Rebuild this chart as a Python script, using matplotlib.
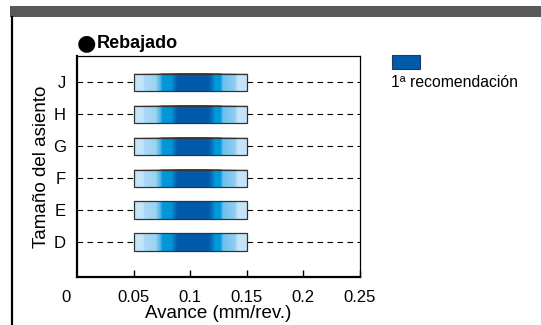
import numpy as np
import matplotlib
matplotlib.use("Agg")
import matplotlib.pyplot as plt
from matplotlib.colors import LinearSegmentedColormap
from matplotlib.patches import Rectangle
from matplotlib.lines import Line2D

plt.rcParams['font.family'] = ['Liberation Sans', 'DejaVu Sans']

# Recommended feed range per seat size
seat_sizes = ['D', 'E', 'F', 'G', 'H', 'J']
feed_low = [0.05, 0.05, 0.05, 0.05, 0.05, 0.05]
feed_high = [0.15, 0.15, 0.15, 0.15, 0.15, 0.15]
x_ticks = [0.05, 0.1, 0.15, 0.2, 0.25]
x_tick_labels = ['0.05', '0.1', '0.15', '0.2', '0.25']

W, H = 541, 325
fig = plt.figure(figsize=(W / 100, H / 100), dpi=100)
fig.patch.set_facecolor('white')

# frame decorations: dark header band and left rule
fig.add_artist(Rectangle((10 / W, 1 - 17 / H), 1 - 10 / W, 11 / H,
                         transform=fig.transFigure, facecolor='#595959',
                         edgecolor='none'))
fig.add_artist(Line2D([11.5 / W, 11.5 / W], [0, 1 - 17 / H],
                      transform=fig.transFigure, color='black', lw=1.6))

ax = fig.add_axes([77 / W, 48 / H, 283 / W, 221 / H])

# horizontal gradient used inside every bar
stops = [
    (0.00, '#c4e5f8'), (0.08, '#c4e5f8'), (0.09, '#aad8f4'),
    (0.19, '#9dd2f2'), (0.23, '#4fb2e8'), (0.25, '#0099d9'),
    (0.33, '#0094d5'), (0.38, '#005cac'), (0.50, '#0058a8'),
    (0.65, '#005cac'), (0.69, '#0078c4'), (0.71, '#0099d9'),
    (0.76, '#0099d9'), (0.78, '#6cbfee'), (0.89, '#92cef1'),
    (0.91, '#c4e5f8'), (1.00, '#c4e5f8'),
]
cmap = LinearSegmentedColormap.from_list('feed_band', stops, N=512)
grad = np.linspace(0, 1, 512).reshape(1, -1)

bar_h = 0.54
for i, (lo, hi) in enumerate(zip(feed_low, feed_high)):
    ax.plot([0, lo], [i, i], color='black', lw=0.8, ls=(0, (5, 4)), zorder=1)
    ax.plot([hi, 0.25], [i, i], color='black', lw=0.8, ls=(0, (5, 4)), zorder=1)
    ax.imshow(grad, cmap=cmap, aspect='auto', interpolation='bilinear',
              extent=(lo, hi, i - bar_h / 2, i + bar_h / 2), zorder=2)
    ax.add_patch(Rectangle((lo, i - bar_h / 2), hi - lo, bar_h,
                           facecolor='none', edgecolor='#333333', lw=0.9,
                           zorder=3))

ax.set_xlim(0, 0.25)
ax.set_ylim(-1.1, 5.83)

ax.set_yticks(range(len(seat_sizes)))
ax.set_yticklabels(seat_sizes, fontsize=12)
ax.tick_params(axis='y', length=0, pad=8)
ax.set_xticks(x_ticks)
ax.set_xticklabels(x_tick_labels, fontsize=12)
ax.tick_params(axis='x', direction='in', length=5, width=1, pad=9)
ax.annotate('0', xy=(0, 0), xycoords=ax.get_xaxis_transform(),
            xytext=(-8, -9), textcoords='offset points', fontsize=12,
            ha='center', va='top')

for side in ('left', 'bottom'):
    ax.spines[side].set_linewidth(1.6)
for side in ('top', 'right'):
    ax.spines[side].set_linewidth(0.9)

ax.set_xlabel('Avance (mm/rev.)', fontsize=13.5, labelpad=0)
ax.set_ylabel('Tamaño del asiento', fontsize=13.5, labelpad=2)

# title
fig.text(77 / W, 1 - 43 / H, '●', family='DejaVu Sans', fontsize=16,
         va='center', ha='left')
fig.text(97 / W, 1 - 43 / H, 'Rebajado', fontsize=13, fontweight='bold',
         va='center', ha='left')

# legend swatch
fig.add_artist(Rectangle((392 / W, 1 - 69 / H), 28 / W, 14 / H,
                         transform=fig.transFigure, facecolor='#005bab',
                         edgecolor='#1e3b66', lw=0.8))
fig.text(391 / W, 1 - 83 / H, '1ª recomendación', fontsize=11.3,
         va='center', ha='left')

fig.savefig('out.png', dpi=100)
